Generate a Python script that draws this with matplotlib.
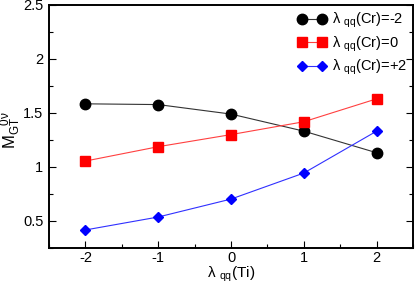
import matplotlib
matplotlib.use("Agg")
import matplotlib.pyplot as plt
from matplotlib.ticker import MultipleLocator

plt.rcParams['font.family'] = ['Liberation Sans', 'DejaVu Sans']
plt.rcParams['mathtext.fontset'] = 'custom'
plt.rcParams['mathtext.rm'] = 'Liberation Sans'
plt.rcParams['mathtext.it'] = 'Liberation Sans'

lam_ti = [-2, -1, 0, 1, 2]
m_cr_m2 = [1.585, 1.578, 1.49, 1.332, 1.132]
m_cr_0 = [1.055, 1.188, 1.30, 1.419, 1.631]
m_cr_p2 = [0.417, 0.537, 0.703, 0.944, 1.332]
labels = [r'$\lambda$ $_{\rm qq}$(Cr)=-2', r'$\lambda$ $_{\rm qq}$(Cr)=0', r'$\lambda$ $_{\rm qq}$(Cr)=+2']

fig = plt.figure(figsize=(4.15, 2.87), dpi=100)
ax = fig.add_axes([49/415, 1-248/287, (413-49)/415, (248-5)/287])

ax.plot(lam_ti, m_cr_m2, '-o', color='#333333', mfc='black', mec='black', ms=7.5, lw=0.8, label=labels[0])
ax.plot(lam_ti, m_cr_0, '-s', color='#ff4040', mfc='red', mec='red', ms=6.5, lw=0.8, label=labels[1])
ax.plot(lam_ti, m_cr_p2, '-D', color='#3030ff', mfc='blue', mec='blue', ms=5.5, lw=0.8, label=labels[2])

ax.set_xlim(-2.5, 2.5)
ax.set_ylim(0.25, 2.5)
ax.set_xticks(lam_ti)
ax.set_xticklabels(['-2', '-1', '0', '1', '2'])
ax.set_yticks([0.5, 1, 1.5, 2, 2.5])
ax.set_yticklabels(['0.5', '1', '1.5', '2', '2.5'])
ax.xaxis.set_minor_locator(MultipleLocator(0.5))
ax.yaxis.set_minor_locator(MultipleLocator(0.25))
ax.tick_params(which='both', direction='in', top=False, right=True, labelsize=10.5)
ax.tick_params(axis='x', which='both', pad=2)
ax.tick_params(axis='y', which='both', pad=4)
ax.tick_params(which='major', length=5, width=0.8)
ax.tick_params(which='minor', length=3, width=0.8)
for s in ax.spines.values():
    s.set_linewidth(1.4)

ax.set_xlabel(r'$\lambda$ $_{\rm qq}$(Ti)', fontsize=11, labelpad=0)
fig.text(11/415, 1-130/287, r'M$_{\rm GT}^{\rm \quad 0\nu}$', fontsize=12,
         rotation=90, ha='center', va='center')

ax.legend(loc='upper right', frameon=False, fontsize=10.5, handlelength=2.0,
          borderaxespad=0.0, labelspacing=0.3, handletextpad=0.4, numpoints=2)

fig.savefig('out.png', dpi=100)
